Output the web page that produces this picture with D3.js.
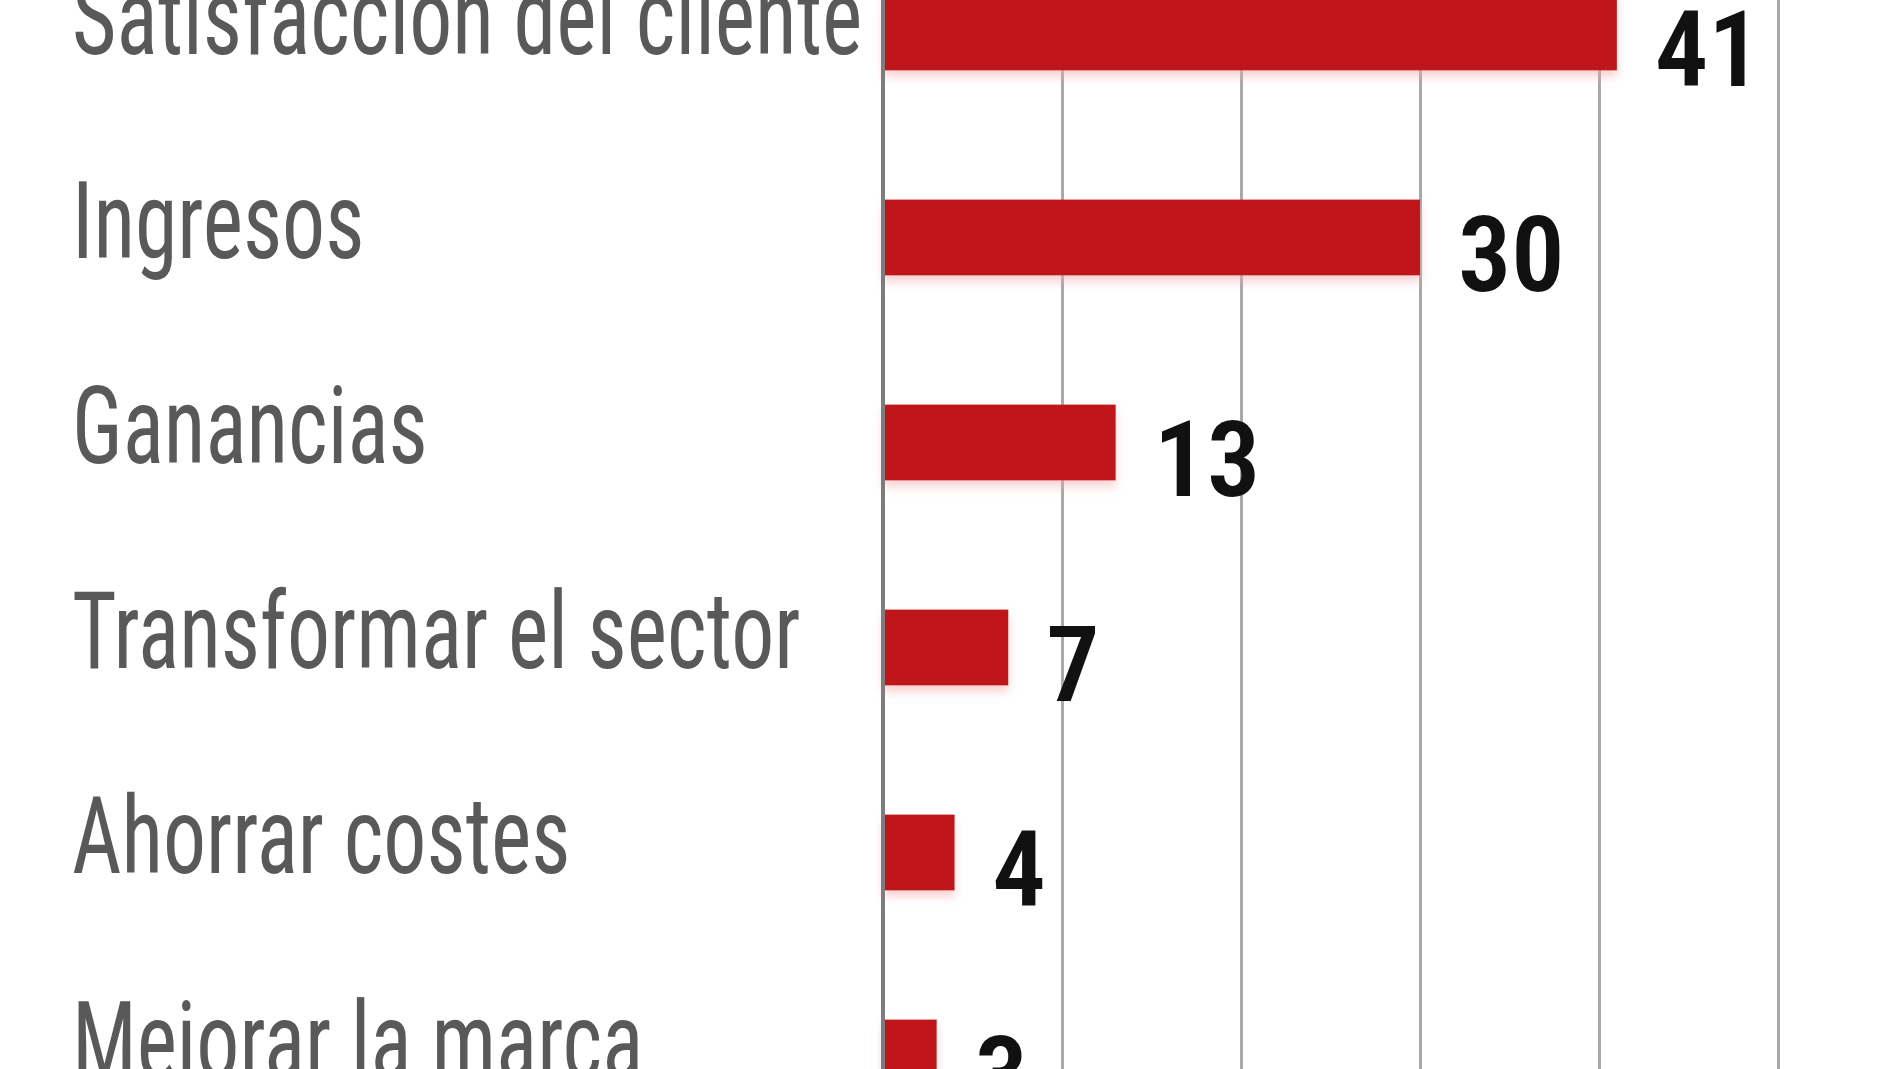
<!DOCTYPE html>
<html>
<head>
<meta charset="utf-8">
<script src="https://cdn.jsdelivr.net/npm/d3@7"></script>
<style>
  html, body { margin: 0; padding: 0; background: #fff; }
  svg { display: block; }
</style>
</head>
<body>
<svg id="chart" width="1900" height="1069"></svg>
<script>
// data
const categories = [
  "Satisfacción del cliente",
  "Ingresos",
  "Ganancias",
  "Transformar el sector",
  "Ahorrar costes",
  "Mejorar la marca"
];
const values = [41, 30, 13, 7, 4, 3];
const gridTicks = [0, 10, 20, 30, 40, 50];

const rows = categories.map((c, i) => ({ label: c, value: values[i] }));

const width = 1900,
  height = 1069;

const font = "'Roboto Condensed', 'Liberation Sans Narrow', 'DejaVu Sans Condensed', sans-serif";

const svg = d3.select("#chart");

// soft pink halo the bars have in the print
const defs = svg.append("defs");
const f = defs.append("filter").attr("id", "halo")
  .attr("x", "-10%").attr("y", "-30%").attr("width", "120%").attr("height", "170%");
f.append("feDropShadow")
  .attr("dx", 0).attr("dy", 6).attr("stdDeviation", 5)
  .attr("flood-color", "#f3a9a9").attr("flood-opacity", 0.55);

const x = d3.scaleLinear()
  .domain([0, 50])
  .range([883, 1778]);

const y = d3.scaleBand()
  .domain(categories)
  .range([-70, -70 + 205 * categories.length])
  .paddingInner(0.63)
  .paddingOuter(0.315);

// vertical grid lines, full height
const grid = svg.append("g")
  .attr("transform", `translate(0,${height})`)
  .call(d3.axisTop(x).tickValues(gridTicks).tickSize(height).tickFormat(""));
grid.select(".domain").remove();
grid.selectAll(".tick line")
  .attr("stroke", "#a9a9a9")
  .attr("stroke-width", 3);

// bars
svg.append("g")
  .selectAll("rect")
  .data(rows)
  .join("rect")
  .attr("x", x(0))
  .attr("y", (d) => y(d.label))
  .attr("width", (d) => x(d.value) - x(0))
  .attr("height", y.bandwidth())
  .attr("fill", "#bf141d")
  .attr("filter", "url(#halo)");

// the zero line sits on top of the bars
svg.append("line")
  .attr("x1", x(0)).attr("x2", x(0))
  .attr("y1", 0).attr("y2", height)
  .attr("stroke", "#7d7d7d")
  .attr("stroke-width", 4);

// category labels, condensed look
const sx = 0.795;
svg.append("g")
  .attr("transform", `scale(${sx},1)`)
  .selectAll("text")
  .data(rows)
  .join("text")
  .attr("x", 72 / sx)
  .attr("y", (d) => y(d.label) + y.bandwidth() / 2 + 21)
  .attr("font-family", font)
  .attr("font-size", 108)
  .attr("fill", "#595959")
  .text((d) => d.label);

// value labels
svg.append("g")
  .selectAll("text")
  .data(rows)
  .join("text")
  .attr("x", (d) => x(d.value) + 38)
  .attr("y", (d) => y(d.label) + y.bandwidth() / 2 + 53)
  .attr("font-family", font)
  .attr("font-weight", 600)
  .attr("font-size", 106)
  .attr("fill", "#111")
  .text((d) => d.value);
</script>
</body>
</html>
